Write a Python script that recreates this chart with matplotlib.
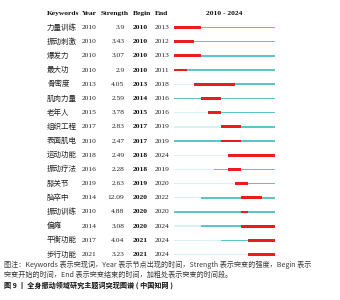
import matplotlib
matplotlib.use('Agg')
import matplotlib.pyplot as plt
import matplotlib.transforms as mtransforms

plt.rcParams['font.family'] = ['Noto Sans CJK SC', 'DejaVu Sans']

# 数据
keywords = ['力量训练', '振动刺激', '爆发力', '最大功', '骨密度', '肌肉力量', '老年人',
            '组织工程', '表面肌电', '运动功能', '振动疗法', '膝关节', '脑卒中',
            '振动训练', '偏瘫', '平衡功能', '步行功能']
years = [2010, 2010, 2010, 2010, 2013, 2010, 2015, 2017, 2010, 2018, 2016, 2019,
         2014, 2010, 2014, 2017, 2021]
strengths = ['3.9', '3.43', '3.07', '2.9', '4.05', '2.59', '3.78', '2.83', '2.47',
             '2.49', '2.28', '2.63', '12.09', '4.88', '3.08', '4.04', '3.23']
begins = [2010, 2010, 2010, 2010, 2013, 2014, 2015, 2017, 2017, 2018, 2018, 2019,
          2020, 2020, 2020, 2021, 2021]
ends = [2013, 2012, 2013, 2011, 2018, 2016, 2016, 2019, 2019, 2024, 2019, 2020,
        2022, 2020, 2024, 2024, 2024]
start_year, end_year = 2010, 2024

W, H = 340, 300
fig = plt.figure(figsize=(W / 100, H / 100), dpi=100)
fig.patch.set_facecolor('white')

# 突现条所在坐标轴（行号为 y）
n = len(keywords)
row0, row_step = 27.5, 14.19
top_px = row0 - 0.5 * row_step
bot_px = row0 + (n - 0.5) * row_step
x0_px, x1_px = 174.0, 275.0
ax = fig.add_axes([x0_px / W, 1 - bot_px / H, (x1_px - x0_px) / W, (bot_px - top_px) / H])
ax.set_xlim(start_year, end_year + 1)
ax.set_ylim(n - 0.5, -0.5)
ax.axis('off')

light = '#d8f0f1'
teal = '#5cc6c7'
red = '#ec1c1c'
for i in range(n):
    y0, b, e = years[i], begins[i], ends[i]
    if y0 > start_year:
        ax.barh(i, y0 - start_year, left=start_year, height=0.1, color=light, linewidth=0)
    ax.barh(i, end_year + 1 - y0, left=y0, height=0.11, color=teal, linewidth=0)
    ax.barh(i, e + 1 - b, left=b, height=0.2, color=red, linewidth=0)

# 表格文字：x 用图像坐标，y 用行号
tr = mtransforms.blended_transform_factory(fig.transFigure, ax.transData)
fs = 5.4
txt_c = '#222222'
serif = ['Liberation Serif', 'DejaVu Serif']
hdr = dict(transform=tr, fontsize=fs, fontweight='bold', family=serif,
           va='center', color='#111111', clip_on=False)
ax.text(47 / W, -1, 'Keywords', ha='left', **hdr)
ax.text(82 / W, -1, 'Year', ha='left', **hdr)
ax.text(129 / W, -1, 'Strength', ha='right', **hdr)
ax.text(133 / W, -1, 'Begin', ha='left', **hdr)
ax.text(155 / W, -1, 'End', ha='left', **hdr)
ax.text((x0_px + x1_px) / 2 / W, -1, f'{start_year} - {end_year}', ha='center', **hdr)

for i in range(n):
    ax.text(47 / W, i, keywords[i], transform=tr, fontsize=fs, ha='left', va='center',
            color=txt_c, family=['Noto Sans CJK SC'])
    ax.text(82 / W, i, str(years[i]), transform=tr, fontsize=fs, ha='left', va='center',
            color=txt_c, family=serif)
    ax.text(124.5 / W, i, strengths[i], transform=tr, fontsize=fs, ha='right', va='center',
            color=txt_c, family=serif)
    ax.text(133 / W, i, str(begins[i]), transform=tr, fontsize=fs, ha='left', va='center',
            color='#111111', family=serif, fontweight='bold')
    ax.text(155 / W, i, str(ends[i]), transform=tr, fontsize=fs, ha='left', va='center',
            color=txt_c, family=serif)

# 图注
cap_fs = 5.1
fig.text(4 / W, 1 - 265 / H,
         '图注：Keywords 表示突现词，Year 表示节点出现的时间，Strength 表示突变的强度，Begin 表示',
         fontsize=cap_fs, ha='left', va='center', color='#3a3a3a')
fig.text(4 / W, 1 - 274.5 / H,
         '突变开始的时间，End 表示突变结束的时间，加粗处表示突变的时间段。',
         fontsize=cap_fs, ha='left', va='center', color='#3a3a3a')
fig.text(4 / W, 1 - 285.5 / H,
         '图 9 丨 全身振动领域研究主题词突现图谱 ( 中国知网 )',
         fontsize=cap_fs, ha='left', va='center', color='#111111', fontweight='bold')

fig.savefig('out.png', dpi=100)
